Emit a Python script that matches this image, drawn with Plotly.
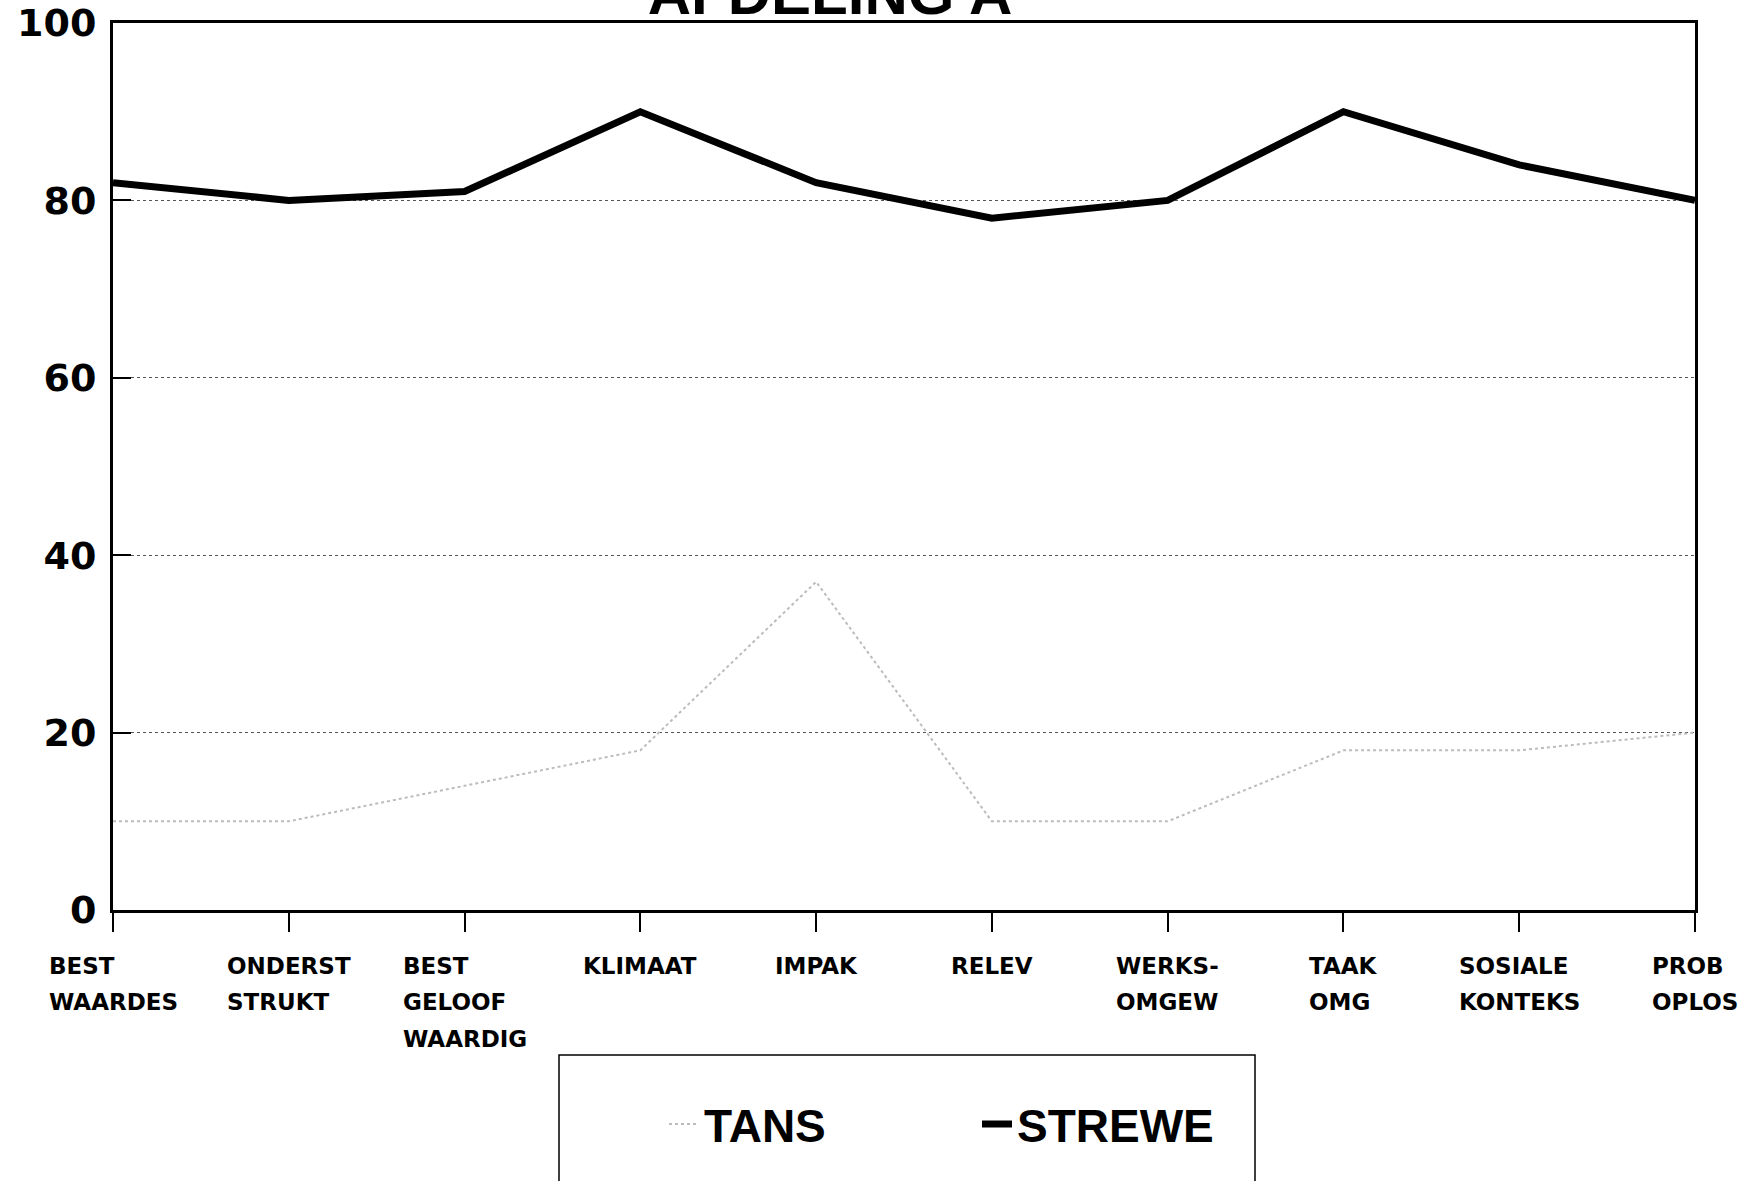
import plotly.graph_objects as go

categories = ["BEST<br>WAARDES", "ONDERST<br>STRUKT", "BEST<br>GELOOF<br>WAARDIG", "KLIMAAT", "IMPAK",
              "RELEV", "WERKS-<br>OMGEW", "TAAK<br>OMG", "SOSIALE<br>KONTEKS", "PROB<br>OPLOS"]
tans = [10, 10, 14, 18, 37, 10, 10, 18, 18, 20]
strewe = [82, 80, 81, 90, 82, 78, 80, 90, 84, 80]
y_ticks = [0, 20, 40, 60, 80, 100]

W, H = 1753, 1181
L, R, T, B = 113, 1695, 23, 910  # plot area in px

def px_x(X):
    return (X - L) / (R - L)

def px_y(Y):
    return (B - Y) / (B - T)

fig = go.Figure()
fig.add_trace(go.Scatter(x=categories, y=tans, name="TANS", mode="lines",
                         line=dict(color="#bcbcbc", width=2, dash="dot")))
fig.add_trace(go.Scatter(x=categories, y=strewe, name="STREWE", mode="lines",
                         line=dict(color="black", width=7)))

for c in categories:
    txt = "<br>".join(f"<span style='font-size:23px'>{part}</span>" for part in c.split("<br>"))
    fig.add_annotation(x=c, xref="x", y=px_y(951), yref="paper", text=txt,
                       showarrow=False, xanchor="center", yanchor="top", align="left",
                       font=dict(family="DejaVu Sans", size=28, color="black", weight="bold"))

# legend frame
fig.add_shape(type="rect", xref="paper", yref="paper",
              x0=px_x(559), x1=px_x(1255), y0=px_y(1055), y1=px_y(1200),
              line=dict(color="black", width=1.5), fillcolor="rgba(0,0,0,0)")

fig.update_layout(
    width=W, height=H,
    margin=dict(l=L, r=W - R, t=T, b=H - B, autoexpand=False),
    paper_bgcolor="white", plot_bgcolor="white",
    title=dict(text="AFDELING A", x=830 / W, xref="container", xanchor="center",
               y=1 - 14 / H, yref="container", yanchor="bottom",
               font=dict(family="Liberation Sans", size=60, color="black", weight="bold")),
    showlegend=True,
    legend=dict(orientation="h", x=px_x(664), xanchor="left", y=px_y(1124), yanchor="middle",
                bgcolor="rgba(0,0,0,0)", borderwidth=0, entrywidth=268,
                font=dict(family="Liberation Sans", size=46, color="black", weight="bold")),
)
fig.update_xaxes(type="category", range=[0, len(categories) - 1], showticklabels=False,
                 ticks="outside", ticklen=19, tickwidth=2, tickcolor="black",
                 showline=True, linecolor="black", linewidth=3, mirror=True,
                 showgrid=False, zeroline=False)
fig.update_yaxes(range=[0, 100], tickvals=y_ticks, ticktext=[str(v) for v in y_ticks],
                 ticks="inside", ticklen=18, tickwidth=2, tickcolor="black",
                 ticklabelstandoff=6, ticklabeloverflow="allow",
                 tickfont=dict(family="DejaVu Sans", size=38, color="black", weight="bold"),
                 showline=True, linecolor="black", linewidth=3, mirror=True,
                 showgrid=True, gridcolor="#555555", gridwidth=1, griddash="dot",
                 zeroline=False)

fig.write_html("out.html", config={"displayModeBar": False},
               post_script="document.body.style.margin='0px';")
